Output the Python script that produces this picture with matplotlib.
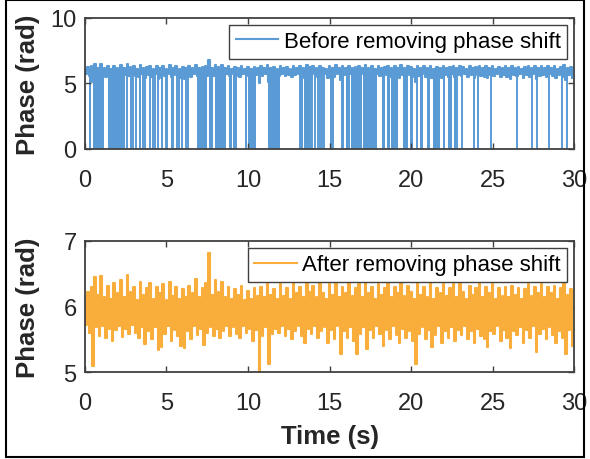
import numpy as np
import matplotlib

matplotlib.use("Agg")
import matplotlib.pyplot as plt
from matplotlib.patches import Rectangle

plt.rcParams["font.family"] = ["Liberation Sans", "DejaVu Sans"]

# sample spacing of the phase record (s)
DT = 0.1

# after removing phase shift: local upper peaks (t = 0.0, 0.2, ... 29.8)
peak_hi = [
    6.10, 6.22, 6.30, 6.45, 6.18, 6.46, 6.15, 6.32, 6.12, 6.36,
    6.20, 6.40, 6.14, 6.48, 6.22, 6.30, 6.10, 6.38, 6.18, 6.28,
    6.36, 6.12, 6.30, 6.20, 6.34, 6.10, 6.38, 6.16, 6.30, 6.12,
    6.26, 6.15, 6.32, 6.20, 6.42, 6.14, 6.28, 6.36, 6.82, 6.18,
    6.40, 6.22, 6.38, 6.15, 6.30, 6.12, 6.26, 6.18, 6.32, 6.10,
    6.24, 6.12, 6.28, 6.16, 6.30, 6.14, 6.38, 6.18, 6.26, 6.12,
    6.34, 6.16, 6.28, 6.12, 6.36, 6.20, 6.30, 6.14, 6.38, 6.22,
    6.32, 6.15, 6.36, 6.20, 6.12, 6.34, 6.18, 6.38, 6.14, 6.30,
    6.20, 6.36, 6.16, 6.28, 6.34, 6.14, 6.38, 6.20, 6.30, 6.12,
    6.35, 6.18, 6.28, 6.36, 6.14, 6.30, 6.20, 6.38, 6.16, 6.32,
    6.22, 6.12, 6.36, 6.18, 6.30, 6.15, 6.36, 6.12, 6.28, 6.20,
    6.34, 6.16, 6.28, 6.35, 6.14, 6.36, 6.22, 6.12, 6.32, 6.18,
    6.28, 6.36, 6.14, 6.30, 6.20, 6.34, 6.12, 6.28, 6.16, 6.30,
    6.14, 6.32, 6.18, 6.28, 6.12, 6.26, 6.34, 6.16, 6.30, 6.20,
    6.35, 6.14, 6.30, 6.20, 6.32, 6.12, 6.28, 6.38, 6.18, 6.26,
]

# after removing phase shift: local lower troughs (t = 0.1, 0.3, ... 29.9)
peak_lo = [
    5.72, 5.60, 5.10, 5.68, 5.55, 5.70, 5.52, 5.66, 5.48, 5.64,
    5.70, 5.53, 5.66, 5.58, 5.72, 5.60, 5.52, 5.68, 5.43, 5.62,
    5.50, 5.68, 5.34, 5.38, 5.58, 5.70, 5.48, 5.64, 5.55, 5.40,
    5.36, 5.62, 5.50, 5.70, 5.56, 5.66, 5.42, 5.60, 5.68, 5.55,
    5.66, 5.52, 5.62, 5.70, 5.55, 5.68, 5.58, 5.52, 5.70, 5.60,
    5.66, 5.48, 5.64, 5.00, 5.55, 5.68, 5.12, 5.58, 5.66, 5.60,
    5.70, 5.55, 5.66, 5.50, 5.62, 5.70, 5.55, 5.45, 5.66, 5.58,
    5.70, 5.52, 5.62, 5.68, 5.45, 5.64, 5.50, 5.70, 5.28, 5.62,
    5.52, 5.68, 5.48, 5.27, 5.58, 5.68, 5.35, 5.64, 5.52, 5.70,
    5.58, 5.40, 5.64, 5.50, 5.70, 5.56, 5.45, 5.66, 5.52, 5.62,
    5.48, 5.12, 5.58, 5.68, 5.50, 5.64, 5.38, 5.56, 5.70, 5.45,
    5.62, 5.52, 5.68, 5.48, 5.64, 5.56, 5.70, 5.50, 5.62, 5.45,
    5.66, 5.55, 5.50, 5.38, 5.62, 5.58, 5.70, 5.48, 5.64, 5.52,
    5.36, 5.62, 5.56, 5.68, 5.45, 5.64, 5.52, 5.70, 5.30, 5.58,
    5.66, 5.50, 5.68, 5.56, 5.45, 5.62, 5.52, 5.27, 5.64, 5.40,
]

# before removing phase shift: single wrap-arounds to ~0 rad (s)
wrap_times = [
    2.56, 2.82, 2.94, 3.11, 3.58, 3.70, 3.99, 4.15, 4.29, 4.50,
    4.71, 4.95, 5.05, 5.42, 5.63, 5.74, 5.93, 6.20, 6.34, 13.95,
    14.11, 14.31, 14.42, 14.56, 14.68, 20.39, 22.85, 23.12, 23.87, 24.08,
    24.90, 26.53, 27.40, 27.70, 28.47, 29.29, 29.55,
]
# before removing phase shift: bursts of dense wrap-arounds (start, end) in s
wrap_bursts = [
    (0.25, 0.40), (0.47, 1.15), (1.40, 2.45), (3.33, 3.44), (5.26, 5.34),
    (6.85, 7.50), (7.60, 7.88), (7.97, 8.63), (8.83, 9.00), (9.10, 9.30),
    (9.82, 9.92), (10.00, 10.50), (11.20, 11.96), (13.15, 13.40),
    (13.45, 13.87), (15.03, 15.28), (15.70, 15.90), (16.00, 16.26),
    (16.30, 16.97), (17.07, 17.90), (18.20, 18.40), (18.50, 18.70),
    (18.77, 19.20), (19.50, 19.83), (19.94, 20.12), (20.55, 20.75),
    (20.96, 21.17), (21.37, 21.78), (21.98, 22.09), (22.29, 22.50),
    (22.64, 22.75),
]
WRAP_LEVEL = 0.0
BAND_FLOOR = 5.75

BLUE = "#5B9BD5"
ORANGE = "#F9AE3B"
INK = "#262626"
SPINE = "#404040"

t = np.arange(2 * len(peak_hi)) * DT
phase_after = np.empty(t.size)
phase_after[0::2] = peak_hi
phase_after[1::2] = peak_lo

burst_start = np.array([a for a, b in wrap_bursts])
burst_width = np.array([b - a for a, b in wrap_bursts])

fig = plt.figure(figsize=(5.9, 4.6), dpi=100)
ax1 = fig.add_axes([0.144, 0.674, 0.829, 0.285])
ax2 = fig.add_axes([0.144, 0.189, 0.829, 0.285])

ax1.plot(t, phase_after, color=BLUE, lw=1.5, drawstyle="steps-mid",
         label="Before removing phase shift")
ax1.vlines(wrap_times, WRAP_LEVEL, BAND_FLOOR, color=BLUE, lw=1.4)
ax1.bar(burst_start, BAND_FLOOR - WRAP_LEVEL, width=burst_width, bottom=WRAP_LEVEL,
        align="edge", color=BLUE, linewidth=0)

ax2.plot(t, phase_after, color=ORANGE, lw=1.5, drawstyle="steps-mid",
         label="After removing phase shift")

ax1.set_ylim(0, 10)
ax1.set_yticks([0, 5, 10])
ax2.set_ylim(5, 7)
ax2.set_yticks([5, 6, 7])

for ax in (ax1, ax2):
    ax.set_xlim(0, 30)
    ax.set_xticks(range(0, 31, 5))
    ax.tick_params(direction="in", top=True, right=True, length=4, width=1,
                   color=SPINE, labelcolor=INK, labelsize=17)
    ax.tick_params(axis="x", pad=14.5)
    ax.tick_params(axis="y", pad=6)
    for s in ax.spines.values():
        s.set_color(SPINE)
        s.set_linewidth(1.3)
        s.set_zorder(3)
    ax.set_ylabel("Phase (rad)", fontsize=18.5, fontweight="bold", color=INK)
    ax.yaxis.set_label_coords(-0.092, 0.5)
    leg = ax.legend(loc="upper right", fontsize=16, fancybox=False, framealpha=1,
                    edgecolor=SPINE, borderaxespad=0.3, borderpad=0.3,
                    handlelength=1.9, handletextpad=0.25)
    leg.get_frame().set_linewidth(1.0)
    for txt in leg.get_texts():
        txt.set_color("black")

ax2.set_xlabel("Time (s)", fontsize=18.5, fontweight="bold", color=INK, labelpad=7)

fig.add_artist(Rectangle((0.0105, 0.004), 0.979, 0.994, transform=fig.transFigure,
                         fill=False, edgecolor="black", linewidth=1.5))

fig.savefig("out.png", dpi=100)
